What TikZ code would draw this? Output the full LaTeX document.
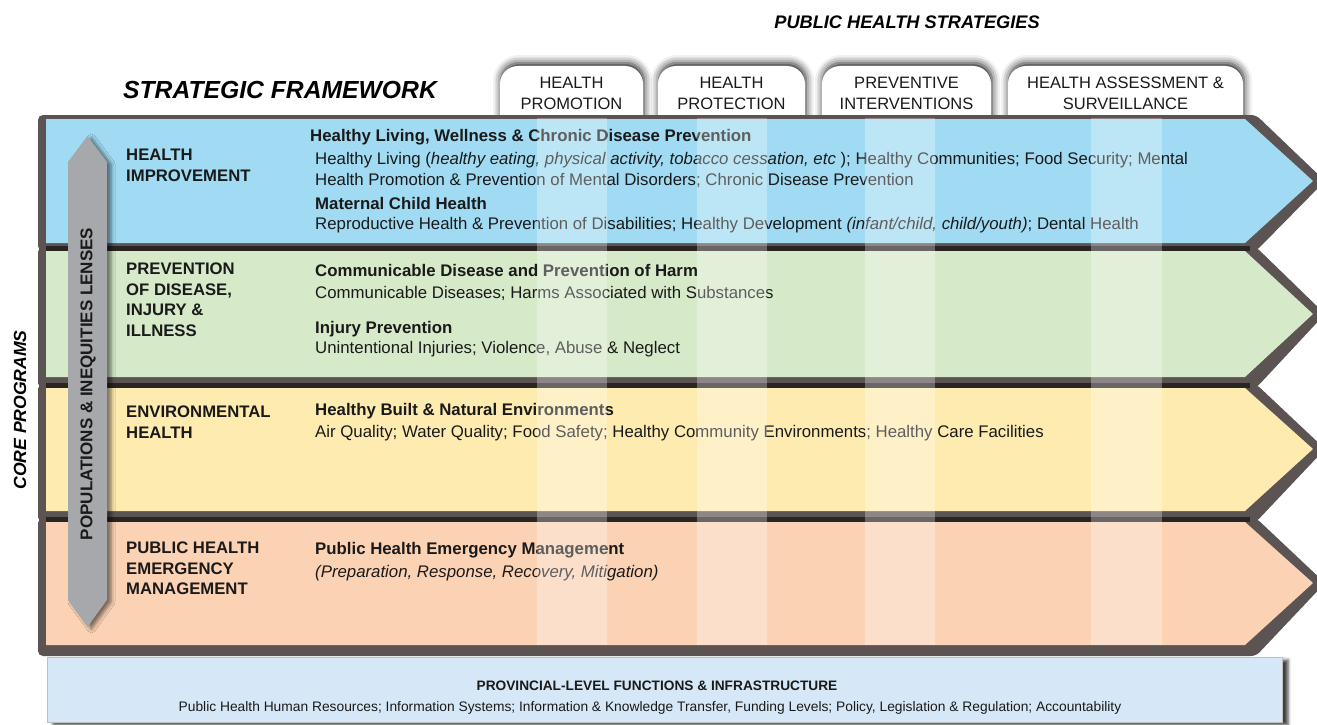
\documentclass[tikz,border=0pt]{standalone}
\usepackage{fontspec}
\setmainfont{Liberation Sans}
\usetikzlibrary{
    positioning,
    shadows.blur
}
\definecolor{bandBlue}{RGB}{160, 219, 243}
\definecolor{bandGreen}{RGB}{214, 233, 201}
\definecolor{bandYellow}{RGB}{254, 235, 176}
\definecolor{bandPeach}{RGB}{251, 210, 180}
\definecolor{frameGray}{RGB}{91, 84, 83}
\definecolor{frameDark}{RGB}{42, 37, 37}
\definecolor{lensGray}{RGB}{166, 168, 171}
\definecolor{baseBlue}{RGB}{214, 232, 247}
\definecolor{inkBlack}{RGB}{26, 26, 26}
\tikzset{
    % dark frame under each band
    frame/.style={
        fill=frameGray,
        rounded corners=5pt
    },
    % coloured program band (arrow shape)
    band/.style={
        fill=#1
    },
    % light column under each strategy
    stripe/.style={
        fill=white,
        opacity=0.3
    },
    % strategy tab on top
    tab/.style={
        fill=white,
        rounded corners=18pt,
        blur shadow={shadow xshift=1pt, shadow yshift=3pt,
            shadow blur radius=8pt, shadow opacity=90}
    },
    tabtext/.style={
        align=center,
        inner sep=0pt,
        text=inkBlack,
        font=\fontsize{16.5}{21}\selectfont
    },
    % program name (left column)
    proglabel/.style={
        anchor=north west,
        align=left,
        inner sep=0pt,
        text=inkBlack,
        font=\fontsize{16.7}{20.5}\selectfont\bfseries
    },
    % program content
    progtext/.style={
        anchor=north west,
        align=left,
        inner sep=0pt,
        text=inkBlack,
        font=\fontsize{16.8}{20.5}\selectfont
    },
    % vertical double arrow
    lens/.style={
        fill=lensGray,
        blur shadow={shadow xshift=4pt, shadow yshift=-2pt,
            shadow blur radius=4pt, shadow opacity=55}
    },
    title/.style={
        inner sep=0pt,
        text=black,
        font=\bfseries\itshape
    }
}

\begin{document}
\begin{tikzpicture}[x=1pt, y=-1pt]
    \useasboundingbox (0,0) rectangle (1317,725);

    % titles
    \node[title, font=\fontsize{18.2}{20}\selectfont\bfseries\itshape] (strat) at (907,22) {PUBLIC HEALTH STRATEGIES};
    \node[title, font=\fontsize{24.7}{28}\selectfont\bfseries\itshape] (frame) at (280,90) {STRATEGIC FRAMEWORK};

    % [1] strategy tabs (bottoms hidden by the first band)
    \fill[tab] (500,140) -- (500,66) -- (643,66) -- (643,140) -- cycle;
    \fill[tab] (658,140) -- (658,66) -- (805,66) -- (805,140) -- cycle;
    \fill[tab] (822,140) -- (822,66) -- (991,66) -- (991,140) -- cycle;
    \fill[tab] (1008,140) -- (1008,66) -- (1243,66) -- (1243,140) -- cycle;
    \node[tabtext] (s1) at (571.5,93) {HEALTH\\PROMOTION};
    \node[tabtext] (s2) at (731.5,93) {HEALTH\\PROTECTION};
    \node[tabtext] (s3) at (906.5,93) {PREVENTIVE\\INTERVENTIONS};
    \node[tabtext] (s4) at (1125.5,93) {HEALTH ASSESSMENT \&\\SURVEILLANCE};

    % [2] program bands
    \fill[frame] (38,115) -- (1256,115) -- (1325,181) -- (1256,251) -- (38,251) -- cycle;
    \fill[band=bandBlue] (46,119) -- (1245,119) -- (1313,181) -- (1245,243) -- (46,243) -- cycle;

    \fill[frame] (38,247) -- (1256,247) -- (1325,314) -- (1256,388) -- (38,388) -- cycle;
    \fill[frameDark] (46,246) rectangle (1250,251);
    \fill[band=bandGreen] (46,251) -- (1245,251) -- (1313,314) -- (1245,377) -- (46,377) -- cycle;

    \fill[frame] (38,384) -- (1256,384) -- (1325,449) -- (1256,522) -- (38,522) -- cycle;
    \fill[frameDark] (46,383) rectangle (1250,388);
    \fill[band=bandYellow] (46,388) -- (1245,388) -- (1313,449) -- (1245,511) -- (46,511) -- cycle;

    \fill[frame] (38,518) -- (1256,518) -- (1325,583) -- (1256,656) -- (38,656) -- cycle;
    \fill[frameDark] (46,517) rectangle (1250,522);
    \fill[band=bandPeach] (46,522) -- (1245,522) -- (1313,583) -- (1245,645) -- (46,645) -- cycle;

    % [3] program names
    \node[proglabel] (p1) at (126,149) {HEALTH\\IMPROVEMENT};
    \node[proglabel] (p2) at (126,263) {PREVENTION\\OF DISEASE,\\INJURY \&\\ILLNESS};
    \node[proglabel] (p3) at (126,406) {ENVIRONMENTAL\\HEALTH};
    \node[proglabel] (p4) at (126,542) {PUBLIC HEALTH\\EMERGENCY\\MANAGEMENT};

    % [4] program contents
    \node[progtext] (t1) at (310,129.5) {
        \textbf{Healthy Living, Wellness \& Chronic Disease Prevention}\\[2.5pt]
        \hspace*{5pt}Healthy Living (\textit{healthy eating, physical activity, tobacco cessation, etc }); Healthy Communities; Food Security; Mental\\
        \hspace*{5pt}Health Promotion \& Prevention of Mental Disorders; Chronic Disease Prevention\\[3.5pt]
        \hspace*{5pt}\textbf{Maternal Child Health}\\
        \hspace*{5pt}Reproductive Health \& Prevention of Disabilities; Healthy Development \textit{(infant/child, child/youth)}; Dental Health
    };
    \node[progtext] (t2) at (315,264) {
        \textbf{Communicable Disease and Prevention of Harm}\\[1.5pt]
        Communicable Diseases; Harms Associated with Substances\\[14.5pt]
        \textbf{Injury Prevention}\\
        Unintentional Injuries; Violence, Abuse \& Neglect
    };
    \node[progtext] (t3) at (315,403) {
        \textbf{Healthy Built \& Natural Environments}\\[1.5pt]
        Air Quality; Water Quality; Food Safety; Healthy Community Environments; Healthy Care Facilities
    };
    \node[progtext] (t4) at (315,542) {
        \textbf{Public Health Emergency Management}\\[2.5pt]
        \textit{(Preparation, Response, Recovery, Mitigation)}
    };

    % light columns over the bands
    \fill[stripe] (537,118) rectangle (607,645);
    \fill[stripe] (697,118) rectangle (767,645);
    \fill[stripe] (865,118) rectangle (935,645);
    \fill[stripe] (1091,118) rectangle (1162,645);

    % [5] populations & inequities lenses
    \fill[lens] (87.5,136) -- (107,162) -- (107,600) -- (87.5,627) -- (68,600) -- (68,162) -- cycle;
    \node[rotate=90, inner sep=0pt, text=inkBlack, font=\fontsize{17}{19}\selectfont\bfseries] (lensText) at (88,384) {POPULATIONS \& INEQUITIES LENSES};

    % core programs
    \node[title, rotate=90, font=\fontsize{17.6}{19}\selectfont\bfseries\itshape] (core) at (20,410) {CORE PROGRAMS};

    % [6] provincial-level functions
    \node[fill=baseBlue, draw=black!25, minimum width=1235pt, minimum height=65pt, inner sep=0pt,
        blur shadow={shadow xshift=6pt, shadow yshift=-3pt, shadow blur radius=3pt, shadow opacity=75}]
        (base) at (664.5,689.5) {};
    \node[inner sep=0pt, text=inkBlack, font=\fontsize{13.7}{15}\selectfont\bfseries] (baseTitle) at (657,686) {PROVINCIAL-LEVEL FUNCTIONS \& INFRASTRUCTURE};
    \node[inner sep=0pt, text=inkBlack, font=\fontsize{13.8}{15}\selectfont] (baseText) at (650,708) {Public Health Human Resources; Information Systems; Information \& Knowledge Transfer, Funding Levels; Policy, Legislation \& Regulation; Accountability};

\end{tikzpicture}
\end{document}
